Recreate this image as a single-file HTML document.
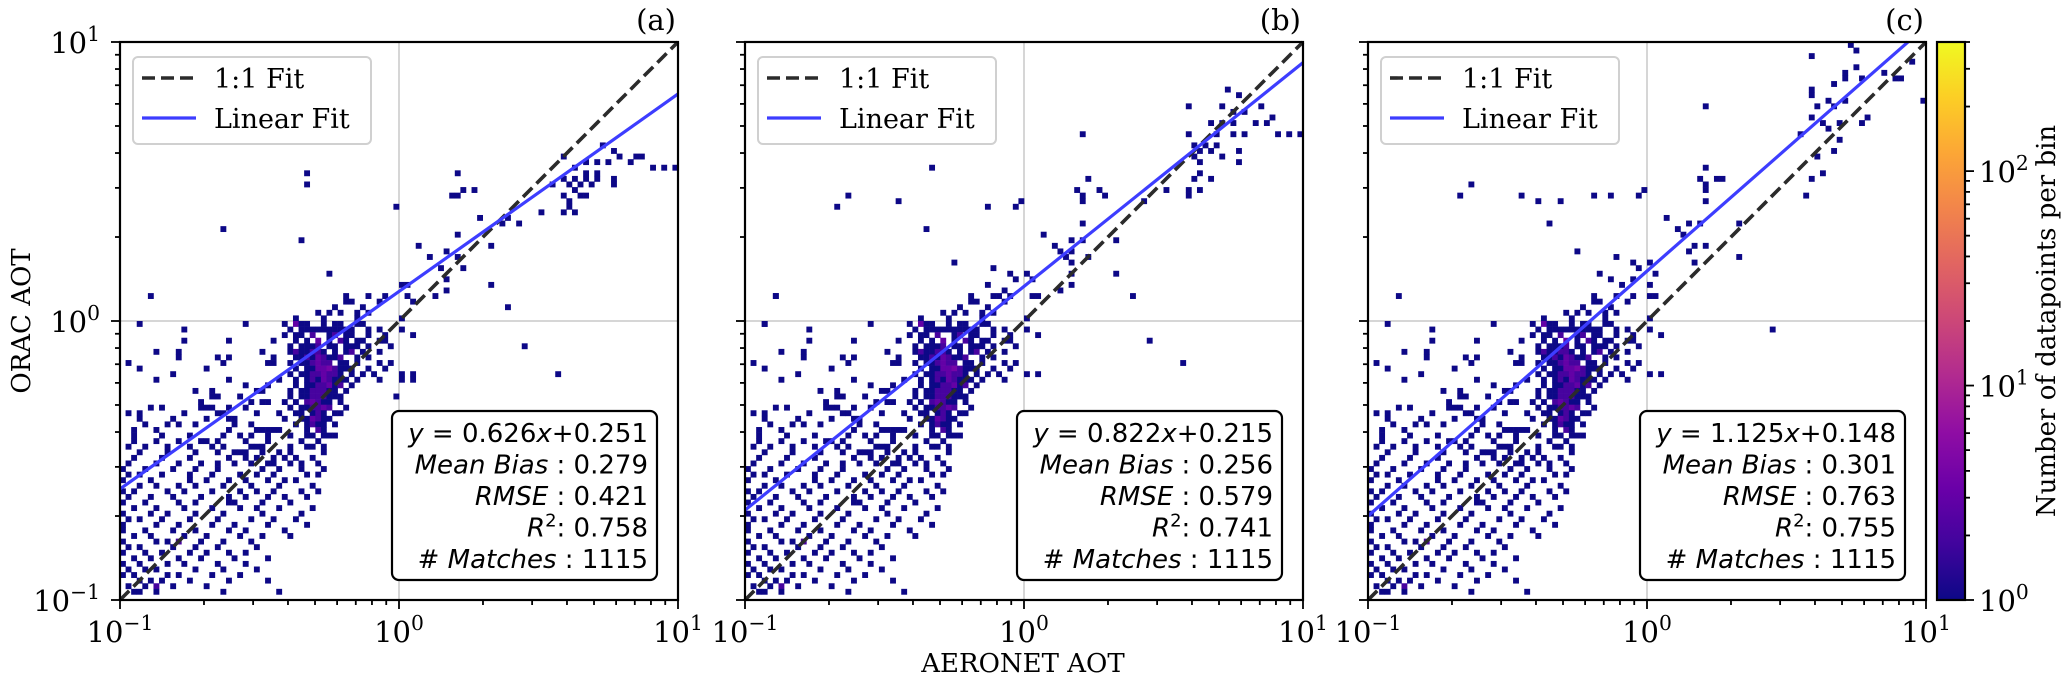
<!DOCTYPE html>
<html><head><meta charset="utf-8"><style>
html,body{margin:0;padding:0;background:#fff;}
svg{display:block;}
</style></head><body>
<svg id="fig" width="2067" height="678" xmlns="http://www.w3.org/2000/svg"></svg>
<script>
// ---- data ----
const panelLetters = ["(a)", "(b)", "(c)"];
const slopes = [0.626, 0.822, 1.125];
const intercepts = [0.251, 0.215, 0.148];
const fitStartY = [0.25, 0.21, 0.20];
const meanBias = ["0.279", "0.256", "0.301"];
const rmse = ["0.421", "0.579", "0.763"];
const r2 = ["0.758", "0.741", "0.755"];
const matches = ["1115", "1115", "1115"];
const xTickLabels = ["-1", "0", "1"];
const yTickLabels = ["-1", "0", "1"];
const cbarTickLabels = ["0", "1", "2"];
const cbarMax = 400;
// histogram bins: row (from top, 100 bins over 2 decades) -> "col[*count] ..."
const cloudRows = {
45:"5 40 44 47 51",46:"40 41 46",47:"38 43",48:"35 37 39 42 44",49:"31 36 42 50",
50:"3 22 29 31*3 32 33 36 38 39 42 43",51:"11 30 32 33 34 35 36 37 38 39 40 41 44 46 50",
52:"29 31 32 34*2 37 38*2 40 41 44 47 52",53:"11 19 27 31 33 35*3 37 39*2 40 42 43 46 47",
54:"30 32 33 34 35*2 37 38 40 41 42 44 48",55:"6 10 25 30 31*2 32 33 34*2 35*2 36 38 40 41*2 43 46",
56:"10 17 19 27 31 32 33*2 34 35*3 36*2 37 38 39*2 42 44",57:"1 18 26 27 30 32 33 34*2 35*3 36*2 37*2 39 40 42 46 48",
58:"3 15 31 33 34 35*3 36*3 37*4 38*2 39 40 41 44 47",59:"9 30 32 33 34*2 35*2 36*3 37*2 38*2 39 41 43 45 50 52",
60:"6 19 28 31 33 34*2 35 36*3 37*2 38 39 40 42 46",61:"22 26 31 33 34 35*2 36*2 37*3 38 39*2 41",
62:"13 16 24 25 30 32 33 34*2 35*2 36*2 37 38 40",63:"16 17 21 30 32 33 34*2 35*2 36*2 37 38 39",
64:"14 23 25 26 29 31 33*2 34*3 35*2 36 37 39",65:"5 7 14 15 16 19 22 30 32 33 34*2 35*2 36*3 37*2 40",
66:"1 3 11 17 18 24 28 31 32 34 35*2 36 38 39",67:"3 9 15 19 20 29 32 33 34*3 35*2 36 37",
68:"4 8 10 13 20 23 31 33 34*2 35 36 38",69:"2 6 19 24 25 26 27 28 33 35*2 36",
70:"2 7 12 18 21 23 26 30 33 34 36 37 38",71:"2 6 10 14 15 17 22 26 32 35",
72:"1 4 8 12 16 18 23 24 25 30 33 34 36",73:"3 8 13 17 20 21 22 25 28 30 36",
74:"2 7 12 19 22 24 27 29 31 34",75:"1 6 10 14 17 20 23 26 27 30 32 35",
76:"0 4 9 13 17 25 28 32 36",77:"1 3 7 12 16 21 24 27 33 35",78:"0 5 12 15 19 22 26 29 31",
79:"3 6 10 13 18 23 28 34",80:"0 2 8 11 16 21 24 27 32 35",81:"1 5 9 14 19 22 26 29 33",
82:"0 4 10 13 19 20 25 30",83:"2 6 11 16 21 24 28 34",84:"0 5 8 13 18 25 32",
85:"1 3 7 12 17 23 27 31",86:"0 6 10 16 20 26 33",87:"0 4 9 13 19 22 29",
88:"2 5 11 15 21 25 30",89:"0 6 8 10*2 14 18 23",90:"1 3 9 13 17 24",91:"0 4 7 12 15 19 22",
92:"2 5 10 14 20 26",93:"0 3 8 11 17 22",94:"1 4 6 13 18 24",95:"0 2 8 10 16 21",
96:"3 5 7 12 19 26",97:"1 4 6*2 9 15",98:"2 3 6 18 28"};
const sparseA = [[33,23],[33,25],[18,33],[32,35],[37,41],[49,29],[60,23],[59,27],[60,27],[61,26],[63,26],[64,31],[60,34],[66,36],[71,32],[68,32],[69,31],[53,36],[55,38],[57,40],[58,37],[60,38],[61,40],[58,42],[58,44],[56,45],[52,46],[51,43],[50,43],[66,43],[69,47],[72,54],[78,59],[50,60],[52,60],[49,63],
[86,18],[88,19],[79,20],[89,20],[92,20],[93,20],[83,21],[85,21],[87,21],[91,21],[81,22],[95,22],[97,22],[99,22],[83,23],[85,23],[79,24],[81,24],[83,24],[85,24],[88,24],[88,25],[77,25],[80,25],[82,25],[84,25],[81,26],[82,27],[79,27],[83,27],[80,28],[80,29],[79,30],[81,30],[75,30]];
const sparseB = [[86,8],[88,9],[79,11],[85,11],[92,11],[87,12],[89,12],[94,13],[83,14],[85,14],[87,14],[91,14],[93,14],[79,16],[84,16],[87,16],[89,16],[95,16],[97,16],[99,16],[60,16],[80,18],[82,18],[84,18],[81,19],[83,19],[88,19],[80,20],[85,20],[81,21],[88,21],[81,23],[80,24],[83,24],[79,26],[81,26],[79,27],[75,26],[71,28],
[33,22],[18,27],[16,29],[27,28],[43,29],[48,29],[49,28],[32,33],[61,24],[59,26],[60,27],[60,28],[63,26],[64,27],[60,32],[53,34],[55,36],[56,37],[57,38],[58,35],[60,35],[66,35],[58,37],[58,39],[58,41],[58,43],[61,38],[66,41],[69,45],[37,39],[44,40],[47,41],[48,42],[50,41],[51,42],[43,43],[46,44],[45,45],[52,45],[56,44],[72,53],[78,57],[5,45],[3,50]];
const sparseC = [[86,0],[87,1],[79,2],[97,3],[87,4],[85,5],[92,5],[85,6],[88,6],[94,6],[95,6],[83,7],[79,8],[79,9],[82,10],[85,10],[99,10],[80,11],[83,11],[60,11],[89,13],[88,14],[79,13],[81,14],[84,14],[82,15],[77,16],[84,17],[83,19],[80,20],[81,23],[79,24],[78,27],
[60,22],[59,24],[62,24],[63,24],[60,25],[60,26],[60,28],[53,31],[57,32],[59,32],[66,32],[55,33],[56,34],[58,36],[60,36],[57,37],[66,38],[58,39],[50,39],[51,41],[50,43],[50,45],[72,51],
[16,27],[18,25],[27,27],[30,28],[34,28],[40,27],[43,27],[48,27],[49,26],[32,32],[37,37],[44,38],[47,39],[48,40],[41,41],[43,42],[45,43],[47,42]];
const sparseSets = [sparseA, sparseB, sparseC];

// ---- layout ----
const NS = "http://www.w3.org/2000/svg";
const svg = document.getElementById("fig");
const panelLefts = [120, 745, 1368];
const TOP = 42, SIZE = 558, BINS = 100;
const SERIF = '"DejaVu Serif","Liberation Serif",serif';
const SANS = '"DejaVu Sans","Liberation Sans",sans-serif';
function mk(tag, attrs, parent) {
  const e = document.createElementNS(NS, tag);
  for (const k in attrs) e.setAttribute(k, attrs[k]);
  (parent || svg).appendChild(e);
  return e;
}
function xS(L, lv) { return L + (lv + 1) / 2 * SIZE; }
function yS(lv) { return TOP + (1 - lv) / 2 * SIZE; }
const plasma = [[13,8,135],[65,4,157],[106,0,168],[143,13,164],[177,42,144],[204,71,120],[225,100,98],[242,132,75],[252,166,54],[252,206,37],[240,249,33]];
function cmap(t) {
  t = Math.max(0, Math.min(1, t)) * 10;
  const i = Math.min(9, Math.floor(t)), f = t - i;
  const a = plasma[i], b = plasma[i + 1];
  return "rgb(" + a.map((v, k) => Math.round(v + (b[k] - v) * f)).join(",") + ")";
}
function countColor(c) { return cmap(Math.log10(c) / Math.log10(cbarMax)); }
function cellsFor(p) {
  const cells = [];
  for (const r in cloudRows) {
    cloudRows[r].split(" ").forEach(tok => {
      if (!tok) return;
      const parts = tok.split("*");
      cells.push([+parts[0], +r, parts[1] ? +parts[1] : 1]);
    });
  }
  sparseSets[p].forEach(s => cells.push([s[0], s[1], 1]));
  return cells;
}
function sup(parent, base, exp, x, y, anchor, size) {
  const t = mk("text", {x: x, y: y, "text-anchor": anchor, "font-family": SERIF, "font-size": size, fill: "#000"}, parent);
  t.textContent = base;
  const s = mk("tspan", {dy: -size * 0.42, "font-size": size * 0.7}, t);
  s.textContent = exp === "-1" ? "\u22121" : exp;
  return t;
}

panelLefts.forEach((L, p) => {
  const g = mk("g", {});
  
  
  const R = L + SIZE, B = TOP + SIZE;
  const grid = mk("g", {stroke: "#c8c8c8", "stroke-width": 1.5}, g);
  
  
  mk("line", {x1: xS(L, 0), x2: xS(L, 0), y1: TOP, y2: B}, grid);
  mk("line", {x1: L, x2: R, y1: yS(0), y2: yS(0)}, grid);
  const hg = mk("g", {}, g);
  
  
  const bw = SIZE / BINS;
  cellsFor(p).forEach(c => {
    const lx = -1 + c[0] * 2 / BINS, ly = 1 - c[1] * 2 / BINS;
    const r = mk("rect", {x: xS(L, lx).toFixed(2), y: yS(ly).toFixed(2), width: bw + 0.3, height: bw + 0.3, fill: countColor(c[2])}, hg);
    
    
  });
  const one = mk("line", {x1: xS(L, -1), y1: yS(-1), x2: xS(L, 1), y2: yS(1), stroke: "#2b2b2b", "stroke-width": 3.6, "stroke-dasharray": "13,6"}, g);
  
  
  const yEnd = slopes[p] * 10 + intercepts[p];
  const ly0 = Math.log10(fitStartY[p]), ly1 = Math.log10(yEnd);
  let x1 = 1, y1 = ly1;
  if (ly1 > 1) { x1 = -1 + 2 * (1 - ly0) / (ly1 - ly0); y1 = 1; }
  const fit = mk("line", {x1: xS(L, -1), y1: yS(ly0), x2: xS(L, x1), y2: yS(y1), stroke: "#3d3dff", "stroke-width": 3.2}, g);
  
  
  const fr = mk("rect", {x: L, y: TOP, width: SIZE, height: SIZE, fill: "none", stroke: "#000", "stroke-width": 2.2}, g);
  
  
  const tk = mk("g", {stroke: "#000", "stroke-width": 1.8}, g);
  
  
  for (let d = -1; d <= 1; d++) {
    mk("line", {x1: xS(L, d), x2: xS(L, d), y1: B, y2: B + 9}, tk);
    mk("line", {x1: L, x2: L - 9, y1: yS(d), y2: yS(d)}, tk);
    if (d < 1) for (let m = 2; m <= 9; m++) {
      const lv = d + Math.log10(m);
      mk("line", {x1: xS(L, lv), x2: xS(L, lv), y1: B, y2: B + 5}, tk);
      mk("line", {x1: L, x2: L - 5, y1: yS(lv), y2: yS(lv)}, tk);
    }
  }
  xTickLabels.forEach((e, i) => {
    const t = sup(g, "10", e, xS(L, i - 1), 642, "middle", 29);
    
    
  });
  if (p === 0) yTickLabels.forEach((e, i) => {
    const t = sup(g, "10", e, 100, yS(i - 1) + 11, "end", 29);
    
    
  });
  const pl = mk("text", {x: R - 2, y: 30, "text-anchor": "end", "font-family": SERIF, "font-size": 29}, g);
  pl.textContent = panelLetters[p];
  
  
  const lg = mk("g", {}, g);
  
  
  mk("rect", {x: L + 13, y: 57, width: 238, height: 87, rx: 5, fill: "rgba(255,255,255,0.85)", stroke: "#d0d0d0", "stroke-width": 2}, lg);
  mk("line", {x1: L + 22, x2: L + 76, y1: 78, y2: 78, stroke: "#2b2b2b", "stroke-width": 3.6, "stroke-dasharray": "13,6"}, lg);
  mk("line", {x1: L + 22, x2: L + 76, y1: 118, y2: 118, stroke: "#3d3dff", "stroke-width": 3.2}, lg);
  const l1 = mk("text", {x: L + 94, y: 88, "font-family": SERIF, "font-size": 27}, lg);
  l1.textContent = "1:1 Fit";
  
  
  const l2 = mk("text", {x: L + 94, y: 128, "font-family": SERIF, "font-size": 27}, lg);
  l2.textContent = "Linear Fit";
  
  
  const sb = mk("g", {}, g);
  
  
  mk("rect", {x: L + 272, y: 411, width: 265, height: 169, rx: 7, fill: "#fff", stroke: "#000", "stroke-width": 2.2}, sb);
  const tx = L + 528, fs = 26;
  const lines = [
    [["y", 1], [" = " + slopes[p].toFixed(3), 0], ["x", 1], ["+" + intercepts[p].toFixed(3), 0]],
    [["Mean Bias", 1], [" :  " + meanBias[p], 0]],
    [["RMSE", 1], [" :  " + rmse[p], 0]],
    [["R", 1], ["2", 2], [": " + r2[p], 0]],
    [["# ", 0], ["Matches", 1], [" :  " + matches[p], 0]]
  ];
  lines.forEach((ln, i) => {
    const t = mk("text", {x: tx, y: 442 + i * 31.5, "text-anchor": "end", "font-family": SANS, "font-size": fs}, sb);
    
    
    ln.forEach(seg => {
      const s = mk("tspan", {}, t);
      if (seg[1] === 1) s.setAttribute("font-style", "italic");
      if (seg[1] === 2) { s.setAttribute("dy", -10); s.setAttribute("font-size", 18); }
      if (seg[1] === 0 && ln.some(q => q[1] === 2)) s.setAttribute("dy", 10);
      s.textContent = seg[0];
    });
  });
});

const yt = mk("text", {x: 0, y: 0, transform: "translate(30,321) rotate(-90)", "text-anchor": "middle", "font-family": SERIF, "font-size": 26});
yt.textContent = "ORAC AOT";


const xt = mk("text", {x: 1023, y: 672, "text-anchor": "middle", "font-family": SERIF, "font-size": 26});
xt.textContent = "AERONET AOT";



const CBX = 1937, CBW = 28;
const cb = mk("g", {});


const defs = mk("defs", {}, cb);
const grad = mk("linearGradient", {id: "plasma", x1: 0, y1: 1, x2: 0, y2: 0}, defs);
for (let i = 0; i <= 10; i++) mk("stop", {offset: i / 10, "stop-color": cmap(i / 10)}, grad);
mk("rect", {x: CBX, y: TOP, width: CBW, height: SIZE, fill: "url(#plasma)", stroke: "#000", "stroke-width": 2.2}, cb);
function cbY(lv) { return TOP + SIZE - lv / Math.log10(cbarMax) * SIZE; }
const ctk = mk("g", {stroke: "#000", "stroke-width": 1.8}, cb);
for (let d = 0; d <= 2; d++) {
  mk("line", {x1: CBX + CBW, x2: CBX + CBW + 9, y1: cbY(d), y2: cbY(d)}, ctk);
  for (let m = 2; m <= 9; m++) {
    const lv = d + Math.log10(m);
    if (lv <= Math.log10(cbarMax)) mk("line", {x1: CBX + CBW, x2: CBX + CBW + 5, y1: cbY(lv), y2: cbY(lv)}, ctk);
  }
}
cbarTickLabels.forEach((e, i) => {
  const t = sup(cb, "10", e, CBX + CBW + 14, cbY(i) + 11, "start", 29);
  
  
});
const cbl = mk("text", {x: 0, y: 0, transform: "translate(2055,321) rotate(-90)", "text-anchor": "middle", "font-family": SERIF, "font-size": 26}, cb);
cbl.textContent = "Number of datapoints per bin";


</script>
</body></html>
